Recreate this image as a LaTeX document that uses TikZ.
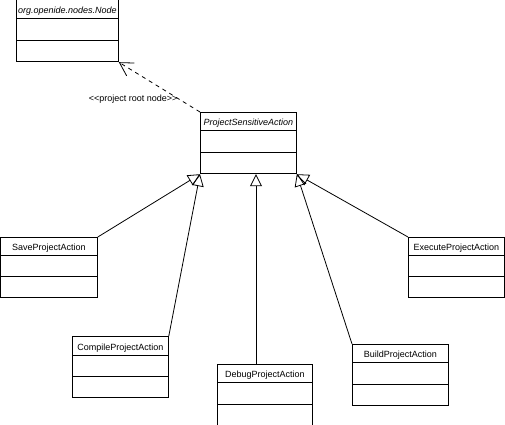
\documentclass[tikz,border=0pt]{standalone}
\usepackage{fontspec}
\newfontfamily\umlfont{Liberation Sans}
\usetikzlibrary{arrows.meta,shapes.multipart}

\begin{document}
\begin{tikzpicture}[x=1pt,y=-1pt,
    umltext/.style={font=\umlfont\fontsize{9}{10}\selectfont},
    umlclass/.style={draw, line width=0.8pt, rectangle split, rectangle split parts=3,
      inner sep=0pt, text width=#1, align=center, anchor=north west, umltext},
    inherit/.style={line width=0.8pt, -{Triangle[open,length=12pt,width=12pt]}},
    depend/.style={line width=0.8pt, dash pattern=on 4pt off 4pt,
      -{Straight Barb[length=13pt,width=15pt]}}]
    \useasboundingbox (0,0) rectangle (505,424);
    % classes
    \node[umlclass=102pt] (node) at (16,-1.5)
        {\rule[-4pt]{0pt}{18.5pt}\textit{org.openide.nodes.Node}\nodepart{two}\rule{0pt}{21pt}\nodepart{three}\rule{0pt}{21pt}};
    \node[umlclass=96pt] (psa) at (200,112)
        {\rule[-4pt]{0pt}{17pt}\textit{ProjectSensitiveAction}\nodepart{two}\rule{0pt}{21pt}\nodepart{three}\rule{0pt}{21pt}};
    \node[umlclass=97pt] (save) at (0,237)
        {\rule[-4pt]{0pt}{17pt}SaveProjectAction\nodepart{two}\rule{0pt}{20pt}\nodepart{three}\rule{0pt}{21pt}};
    \node[umlclass=96pt] (compile) at (72,336)
        {\rule[-4pt]{0pt}{18pt}CompileProjectAction\nodepart{two}\rule{0pt}{20pt}\nodepart{three}\rule{0pt}{21pt}};
    \node[umlclass=95pt] (debug) at (217,364)
        {\rule[-4pt]{0pt}{17pt}DebugProjectAction\nodepart{two}\rule{0pt}{21pt}\nodepart{three}\rule{0pt}{21pt}};
    \node[umlclass=96pt] (build) at (352,344)
        {\rule[-4pt]{0pt}{17pt}BuildProjectAction\nodepart{two}\rule{0pt}{21pt}\nodepart{three}\rule{0pt}{21pt}};
    \node[umlclass=96pt] (execute) at (408,237)
        {\rule[-4pt]{0pt}{17pt}ExecuteProjectAction\nodepart{two}\rule{0pt}{20pt}\nodepart{three}\rule{0pt}{21pt}};
    % dependency
    \draw[depend] (psa.north west) -- node[pos=0.26, anchor=east, inner sep=1pt, umltext] (rootlabel) {<<project root node>>} (node.south east);
    % generalizations
    \draw[inherit] (save.north east) -- (psa.south west);
    \draw[inherit] (compile.north east) -- (psa.south west);
    \draw[inherit] ([xshift=39pt]debug.north west) -- ([xshift=39pt]debug.north west |- psa.south);
    \draw[inherit] (build.north west) -- (psa.south east);
    \draw[inherit] (execute.north west) -- (psa.south east);
\end{tikzpicture}
\end{document}
